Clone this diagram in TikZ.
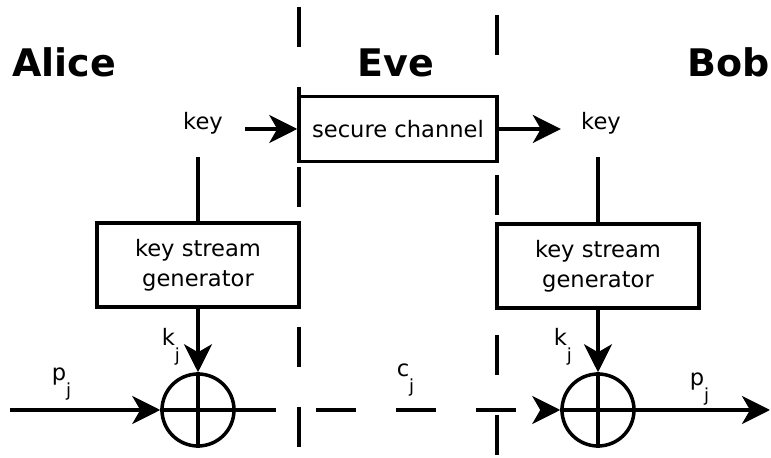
\documentclass[tikz,border=0pt]{standalone}
\usepackage{fontspec}
\setmainfont{DejaVu Sans}
\usetikzlibrary{arrows.meta}
\newcommand{\subj}[1]{#1\raisebox{-0.7em}{\fontsize{9}{9}\selectfont j}}

\begin{document}
\begin{tikzpicture}[x=0.5pt, y=-0.5pt, line width=1.75pt,
  every node/.style={font=\fontsize{11.3}{15}\selectfont},
  title/.style={font=\fontsize{19}{19}\selectfont\bfseries, anchor=base},
  lbl/.style={anchor=base},
  sublbl/.style={anchor=base west, inner sep=0pt},
  block/.style={draw, align=center, inner sep=0pt},
  xor/.style={draw, circle, minimum size=36pt, inner sep=0pt},
  arr/.style={-{Stealth[length=14pt, width=14pt, inset=4pt]}},
  divider/.style={dash pattern=on 20pt off 20pt}]
  \useasboundingbox (0,0) rectangle (771,458);

  % Dividers
  \draw[divider] (299,7) -- (299,458);
  \draw[divider] (497,15) -- (497,458);

  % Parties
  \node[title] (alice) at (64,77) {Alice};
  \node[title] (eve) at (396,77) {Eve};
  \node[title] (bob) at (729,77) {Bob};

  % Key exchange
  \node[block, minimum width=99pt, minimum height=32.5pt] (chan) at (398,129) {secure channel};
  \node[lbl] (keyA) at (203,130) {key};
  \node[lbl] (keyB) at (601,130) {key};
  \draw[arr, shorten <=7pt] (keyA.east |- chan.west) -- (chan.west);
  \draw[arr, shorten >=6pt] (chan.east) -- (keyB.west |- chan.east);

  % Key stream generators
  \node[block, minimum width=101pt, minimum height=42pt] (genA) at (198,265) {key stream\\generator};
  \node[block, minimum width=101pt, minimum height=42pt] (genB) at (598,266) {key stream\\generator};
  \draw[shorten <=7pt] (genA.north |- keyA.south) -- (genA.north);
  \draw[shorten <=7pt] (genB.north |- keyB.south) -- (genB.north);

  % XOR
  \node[xor] (xorA) at (198,410) {};
  \node[xor] (xorB) at (598,410) {};
  \draw[arr] (genA) -- (xorA);
  \draw[arr] (genB) -- (xorB);
  \draw (xorA.north) -- (xorA.south);
  \draw (xorA.west) -- (xorA.east);
  \draw (xorB.north) -- (xorB.south);
  \draw (xorB.west) -- (xorB.east);

  % Data path
  \coordinate (src) at (10,410);
  \coordinate (dst) at (770,410);
  \draw[arr] (src) -- (xorA.west);
  \draw[arr, divider] (xorA.east) -- (xorB.west);
  \draw[arr] (xorB.east) -- (dst);

  % Labels
  \node[sublbl] (kA) at (160,346) {\subj{k}};
  \node[sublbl] (kB) at (552,346) {\subj{k}};
  \node[sublbl] (pA) at (50,381) {\subj{p}};
  \node[sublbl] (cj) at (395,377) {\subj{c}};
  \node[sublbl] (pB) at (688,386) {\subj{p}};
\end{tikzpicture}
\end{document}
